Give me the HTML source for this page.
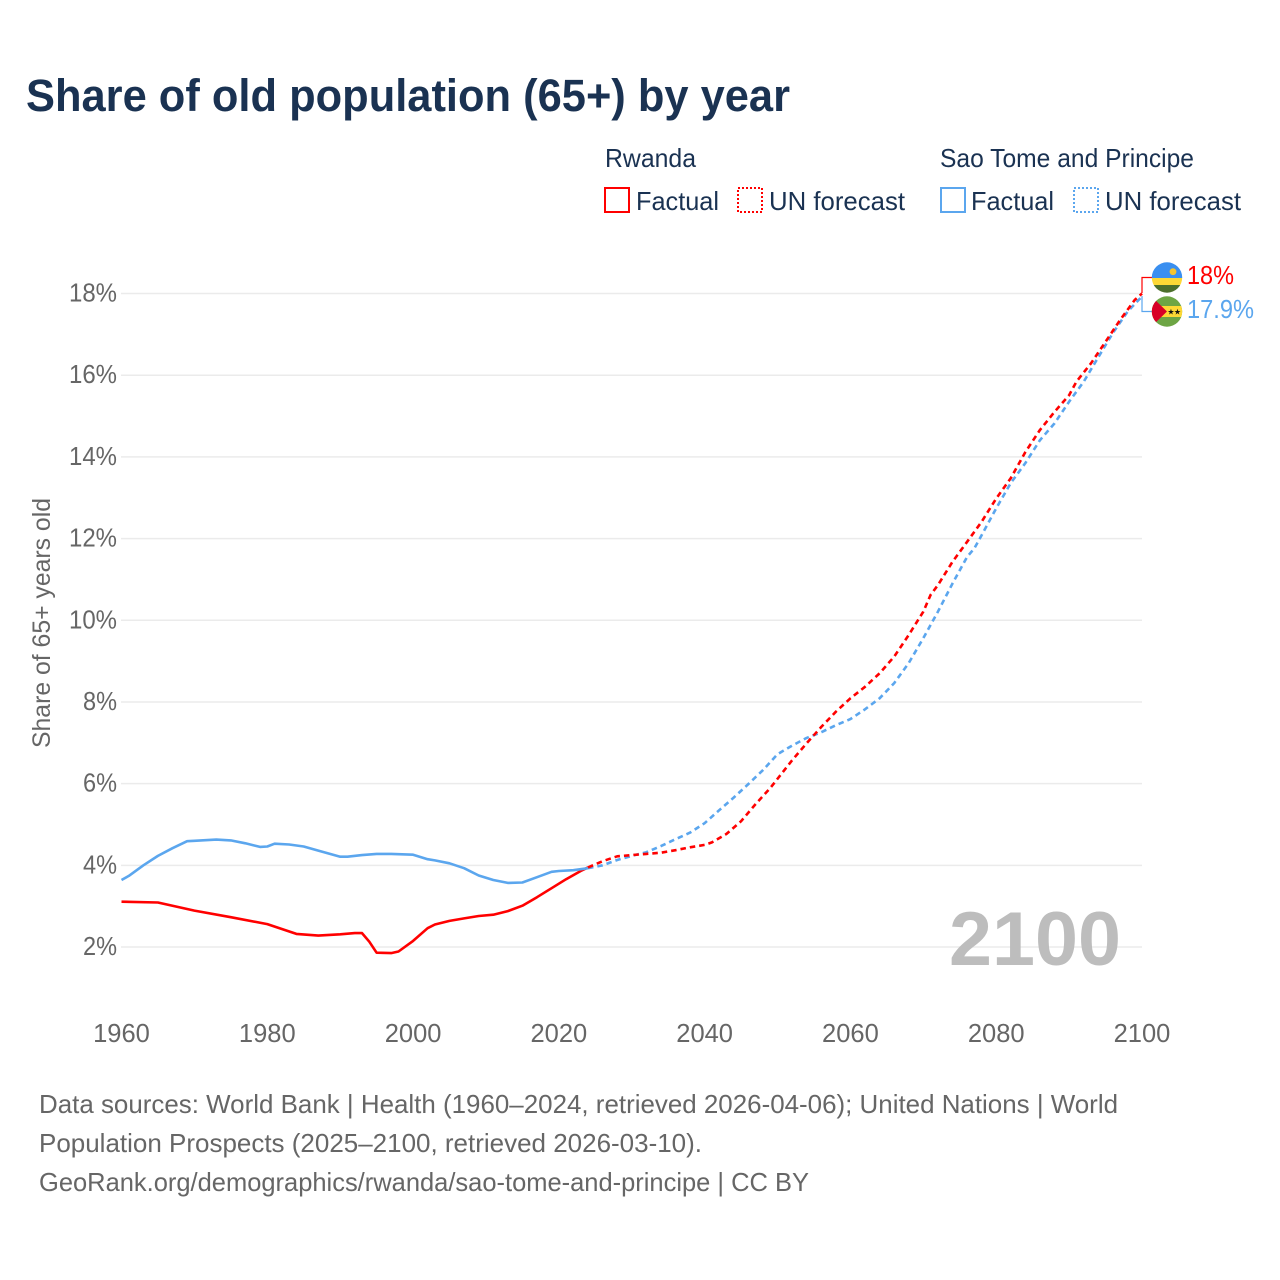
<!DOCTYPE html>
<html lang="en">
<head>
<meta charset="utf-8">
<title>Share of old population (65+) by year</title>
<style>
html,body{margin:0;padding:0;background:#fff;}
svg{display:block;font-family:"Liberation Sans",Arial,sans-serif;}
</style>
</head>
<body>
<svg id="chart" width="1280" height="1280" viewBox="0 0 1280 1280" xmlns="http://www.w3.org/2000/svg">
  <rect x="0" y="0" width="1280" height="1280" fill="#ffffff"/>
  <text x="26" y="111" font-size="45" font-weight="700" fill="#1a3252" textLength="764" lengthAdjust="spacingAndGlyphs">Share of old population (65+) by year</text>

  <g font-size="26" fill="#1a3252">
    <text x="605" y="167" textLength="91" lengthAdjust="spacingAndGlyphs">Rwanda</text>
    <rect x="605" y="188" width="24" height="24" fill="none" stroke="#ff0000" stroke-width="2"/>
    <text x="636" y="210" textLength="83" lengthAdjust="spacingAndGlyphs">Factual</text>
    <rect x="738" y="188" width="24" height="24" fill="none" stroke="#ff0000" stroke-width="2" stroke-dasharray="2 2"/>
    <text x="769" y="210" textLength="136" lengthAdjust="spacingAndGlyphs">UN forecast</text>
    <text x="940" y="167" textLength="254" lengthAdjust="spacingAndGlyphs">Sao Tome and Principe</text>
    <rect x="941" y="188" width="24" height="24" fill="none" stroke="#5ba6ee" stroke-width="2"/>
    <text x="971" y="210" textLength="83" lengthAdjust="spacingAndGlyphs">Factual</text>
    <rect x="1074" y="188" width="24" height="24" fill="none" stroke="#5ba6ee" stroke-width="2" stroke-dasharray="2 2"/>
    <text x="1105" y="210" textLength="136" lengthAdjust="spacingAndGlyphs">UN forecast</text>
  </g>

  <g id="grid"></g>
  <g id="yticks" font-size="25.5" fill="#666666" text-anchor="end"></g>
  <g id="xticks" font-size="25.5" fill="#666666" text-anchor="middle"></g>

  <text transform="translate(50 623) rotate(-90)" font-size="25" fill="#666666" text-anchor="middle" textLength="250" lengthAdjust="spacingAndGlyphs">Share of 65+ years old</text>

  <text x="949" y="965" font-size="76" font-weight="700" fill="#bdbdbd" textLength="172" lengthAdjust="spacingAndGlyphs">2100</text>

  <g id="series"></g>

  <g fill="none" stroke-width="1.2">
    <polyline points="1142,293 1142,277.5 1152,277.5" stroke="#ff0000"/>
    <polyline points="1142,296 1142,311.5 1152,311.5" stroke="#5ba6ee"/>
  </g>

  <defs>
    <clipPath id="clip-rw"><circle cx="1167" cy="277.5" r="15.2"/></clipPath>
    <clipPath id="clip-st"><circle cx="1167" cy="311.5" r="15.2"/></clipPath>
  </defs>
  <g clip-path="url(#clip-rw)">
    <rect x="1150" y="260" width="34" height="18" fill="#3a8ff0"/>
    <rect x="1150" y="278" width="34" height="7" fill="#fdd835"/>
    <rect x="1150" y="285" width="34" height="10" fill="#4c6f2c"/>
    <circle cx="1173" cy="271.7" r="3.4" fill="#f5c52e"/>
  </g>
  <g clip-path="url(#clip-st)">
    <rect x="1150" y="295" width="34" height="33" fill="#6da544"/>
    <rect x="1150" y="306" width="34" height="11" fill="#fdd835"/>
    <polygon points="1150,295 1167,311.5 1150,328" fill="#d80027"/>
    <text x="1171" y="314.5" font-size="8" fill="#111111" text-anchor="middle" style="font-family:'DejaVu Sans',sans-serif">★</text>
    <text x="1177.5" y="314.5" font-size="8" fill="#111111" text-anchor="middle" style="font-family:'DejaVu Sans',sans-serif">★</text>
  </g>

  <text x="1187" y="284" font-size="25.5" fill="#ff0000" textLength="47" lengthAdjust="spacingAndGlyphs">18%</text>
  <text x="1187" y="318" font-size="25.5" fill="#5ba6ee" textLength="67" lengthAdjust="spacingAndGlyphs">17.9%</text>

  <g font-size="26" fill="#666666">
    <text x="39" y="1113" textLength="1079" lengthAdjust="spacingAndGlyphs">Data sources: World Bank | Health (1960–2024, retrieved 2026-04-06); United Nations | World</text>
    <text x="39" y="1152" textLength="663" lengthAdjust="spacingAndGlyphs">Population Prospects (2025–2100, retrieved 2026-03-10).</text>
    <text x="39" y="1191" textLength="770" lengthAdjust="spacingAndGlyphs">GeoRank.org/demographics/rwanda/sao-tome-and-principe | CC BY</text>
  </g>
</svg>
<script>
const xTickYears = [1960, 1980, 2000, 2020, 2040, 2060, 2080, 2100];
const yTickValues = [2, 4, 6, 8, 10, 12, 14, 16, 18];

const rwandaFactualYears = [1960,1965,1970,1975,1980,1984,1987,1990,1992,1993,1994,1995,1997,1998,2000,2002,2003,2005,2007,2009,2011,2013,2015,2017,2019,2021,2023,2024];
const rwandaFactualValues = [3.11,3.09,2.89,2.73,2.56,2.32,2.28,2.31,2.34,2.34,2.13,1.86,1.85,1.89,2.15,2.46,2.55,2.64,2.70,2.76,2.79,2.88,3.01,3.22,3.44,3.66,3.86,3.95];

const rwandaForecastYears = [2024,2026,2028,2030,2032,2034,2036,2038,2040,2041,2043,2045,2047,2049,2052,2054,2056,2058,2060,2062,2064,2066,2068,2070,2071,2072,2074,2076,2078,2080,2082,2084,2086,2088,2090,2091,2093,2095,2097,2099,2100];
const rwandaForecastValues = [3.95,4.10,4.22,4.25,4.28,4.31,4.37,4.44,4.50,4.56,4.77,5.08,5.50,5.89,6.57,6.99,7.39,7.76,8.09,8.37,8.70,9.11,9.64,10.21,10.62,10.86,11.43,11.92,12.41,12.98,13.48,14.12,14.66,15.10,15.51,15.84,16.29,16.82,17.35,17.84,18.00];

const saoTomeFactualYears = [1960,1961,1963,1965,1967,1969,1970,1973,1975,1977,1979,1980,1981,1983,1985,1987,1990,1991,1993,1995,1997,2000,2002,2003,2005,2007,2009,2011,2013,2015,2017,2019,2020,2022,2024];
const saoTomeFactualValues = [3.64,3.74,4.00,4.23,4.42,4.59,4.60,4.63,4.61,4.54,4.45,4.46,4.53,4.51,4.46,4.36,4.21,4.21,4.25,4.28,4.28,4.26,4.15,4.12,4.05,3.93,3.75,3.64,3.57,3.58,3.71,3.84,3.86,3.88,3.93];

const saoTomeForecastYears = [2024,2026,2028,2030,2032,2034,2036,2038,2040,2042,2044,2046,2048,2050,2052,2054,2056,2058,2060,2062,2064,2066,2068,2070,2072,2074,2076,2077,2078,2080,2082,2084,2086,2088,2090,2092,2094,2096,2098,2100];
const saoTomeForecastValues = [3.93,4.00,4.13,4.23,4.32,4.47,4.64,4.80,5.03,5.35,5.66,5.99,6.33,6.72,6.93,7.12,7.26,7.43,7.58,7.82,8.09,8.46,8.95,9.56,10.21,10.90,11.55,11.76,12.08,12.74,13.36,13.85,14.41,14.82,15.35,15.84,16.44,17.03,17.55,17.93];

const NS = 'http://www.w3.org/2000/svg';
function xScale(year) { return 121.5 + (year - 1960) * (1142 - 121.5) / 140; }
function yScale(pct) { return 947 - (pct - 2) * (947 - 293.5) / 16; }
function pointsFor(years, values) {
  return years.map(function (y, i) { return xScale(y).toFixed(1) + ',' + yScale(values[i]).toFixed(1); }).join(' ');
}
function addLine(years, values, color, dashed, name) {
  const el = document.createElementNS(NS, 'polyline');
  
  
  el.setAttribute('points', pointsFor(years, values));
  el.setAttribute('fill', 'none');
  el.setAttribute('stroke', color);
  el.setAttribute('stroke-width', '2.6');
  el.setAttribute('stroke-linejoin', 'round');
  if (dashed) { el.setAttribute('stroke-dasharray', '5.5 4'); }
  document.getElementById('series').appendChild(el);
}

yTickValues.forEach(function (v) {
  const line = document.createElementNS(NS, 'line');
  
  
  line.setAttribute('x1', 121);
  line.setAttribute('x2', 1142);
  line.setAttribute('y1', yScale(v));
  line.setAttribute('y2', yScale(v));
  line.setAttribute('stroke', '#ebebeb');
  line.setAttribute('stroke-width', '1.5');
  document.getElementById('grid').appendChild(line);

  const label = document.createElementNS(NS, 'text');
  
  
  label.setAttribute('x', 117);
  label.setAttribute('y', yScale(v) + 8);
  label.setAttribute('textLength', v >= 10 ? 48 : 34);
  label.setAttribute('lengthAdjust', 'spacingAndGlyphs');
  label.textContent = v + '%';
  document.getElementById('yticks').appendChild(label);
});

xTickYears.forEach(function (year) {
  const label = document.createElementNS(NS, 'text');
  
  
  label.setAttribute('x', xScale(year));
  label.setAttribute('y', 1042);
  label.textContent = String(year);
  document.getElementById('xticks').appendChild(label);
});

addLine(rwandaFactualYears, rwandaFactualValues, '#ff0000', false, 'line-rwanda-factual');
addLine(saoTomeFactualYears, saoTomeFactualValues, '#5ba6ee', false, 'line-sao-tome-factual');
addLine(saoTomeForecastYears, saoTomeForecastValues, '#5ba6ee', true, 'line-sao-tome-forecast');
addLine(rwandaForecastYears, rwandaForecastValues, '#ff0000', true, 'line-rwanda-forecast');
</script>
</body>
</html>
